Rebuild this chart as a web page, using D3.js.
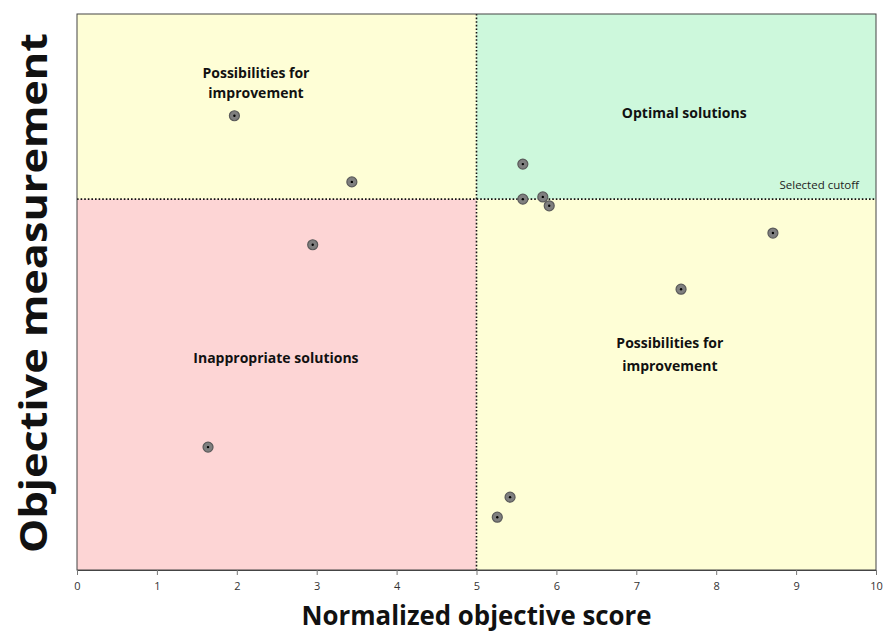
<!DOCTYPE html>
<html><head><meta charset="utf-8">
<script src="https://cdn.jsdelivr.net/npm/d3@7"></script>
<style>body{margin:0;background:#fff;} svg{display:block;}</style>
</head><body>
<svg id="chart" width="884" height="633"></svg>
<script>
// Data
const scoreX = [1.97, 3.44, 2.95, 1.64, 5.58, 5.58, 5.83, 5.91, 8.71, 7.56, 5.42, 5.26];
const measureY = [81.7, 69.8, 58.5, 22.1, 73.0, 66.7, 67.1, 65.5, 60.6, 50.5, 13.1, 9.5];
const xTicks = [0,1,2,3,4,5,6,7,8,9,10];
const xCut = 5;
const yCut = 66.7;
const labelLines = [["Possibilities for","improvement"], ["Optimal solutions"], ["Inappropriate solutions"], ["Possibilities for","improvement"]];
const labelX = [2.24, 7.6, 2.49, 7.42];
const labelY = [88.5, 81.3, 37.2, 39.9];

const svg = d3.select("#chart");
const m = {l:77, r:876, t:14, b:570};
const x = d3.scaleLinear().domain([0,10]).range([m.l, m.r]);
const y = d3.scaleLinear().domain([0,100]).range([m.b, m.t]);
const font = "'Open Sans', sans-serif";

// quadrants
const quads = [
  {x0:0,x1:xCut,y0:yCut,y1:100,c:"#fefed6"},
  {x0:xCut,x1:10,y0:yCut,y1:100,c:"#cdf8dc"},
  {x0:0,x1:xCut,y0:0,y1:yCut,c:"#fdd5d5"},
  {x0:xCut,x1:10,y0:0,y1:yCut,c:"#fefed6"},
];
svg.selectAll("rect.q").data(quads).join("rect")
  .attr("x", d=>x(d.x0)).attr("y", d=>y(d.y1))
  .attr("width", d=>x(d.x1)-x(d.x0)).attr("height", d=>y(d.y0)-y(d.y1))
  .attr("fill", d=>d.c);

// cutoff lines
svg.append("line").attr("x1", x(xCut)).attr("x2", x(xCut)).attr("y1", y(100)).attr("y2", y(0))
  .attr("stroke","#111").attr("stroke-width",1.6).attr("stroke-dasharray","1.6,2");
svg.append("line").attr("x1", x(0)).attr("x2", x(10)).attr("y1", y(yCut)).attr("y2", y(yCut))
  .attr("stroke","#111").attr("stroke-width",1.6).attr("stroke-dasharray","1.6,2");

// border
svg.append("rect").attr("x", m.l).attr("y", m.t).attr("width", m.r-m.l).attr("height", m.b-m.t)
  .attr("fill","none").attr("stroke","#444").attr("stroke-width",1);

// x axis
const xa = svg.append("g").attr("transform",`translate(0,${m.b})`)
  .call(d3.axisBottom(x).tickValues(xTicks).tickSize(5).tickPadding(7).tickFormat(d3.format("d")));
xa.select(".domain").attr("stroke","#444");
xa.selectAll(".tick line").attr("stroke","#777");
xa.selectAll("text").attr("font-family",font).attr("font-size",11).attr("fill","#333");

// axis titles
svg.append("text").attr("x", x(5)).attr("y", 625).attr("text-anchor","middle")
  .attr("font-family",font).attr("font-weight","bold").attr("font-size",26)
  .attr("textLength",350).attr("lengthAdjust","spacingAndGlyphs")
  .attr("fill","#111").text("Normalized objective score");
svg.append("text").attr("transform",`translate(47,293) rotate(-90)`).attr("text-anchor","middle")
  .attr("font-family",font).attr("font-weight","bold").attr("font-size",37)
  .attr("textLength",520).attr("lengthAdjust","spacingAndGlyphs")
  .attr("fill","#111").text("Objective measurement");

// quadrant labels
labelLines.forEach((lines,k)=>{
  const t = svg.append("text").attr("text-anchor","middle")
    .attr("font-family",font).attr("font-weight","bold").attr("font-size",14)
    .attr("fill","#111");
  lines.forEach((ln,i)=>{
    t.append("tspan").attr("x", x(labelX[k])).attr("y", y(labelY[k]) + i*(k===0?20:23)).text(ln);
  });
});

svg.append("text").attr("x", 859).attr("y", y(yCut)-10).attr("text-anchor","end")
  .attr("font-family",font).attr("font-size",11.5).attr("fill","#222").text("Selected cutoff");

// points
const pts = scoreX.map((v,i)=>({x:v,y:measureY[i]}));
const g = svg.append("g");
g.selectAll("circle.o").data(pts).join("circle")
  .attr("cx", d=>x(d.x)).attr("cy", d=>y(d.y)).attr("r",5)
  .attr("fill","#7f7f7f").attr("stroke","#5a5a5a").attr("stroke-width",1.2);
g.selectAll("circle.i").data(pts).join("circle")
  .attr("cx", d=>x(d.x)).attr("cy", d=>y(d.y)).attr("r",1.2).attr("fill","#000");
</script>
</body></html>
